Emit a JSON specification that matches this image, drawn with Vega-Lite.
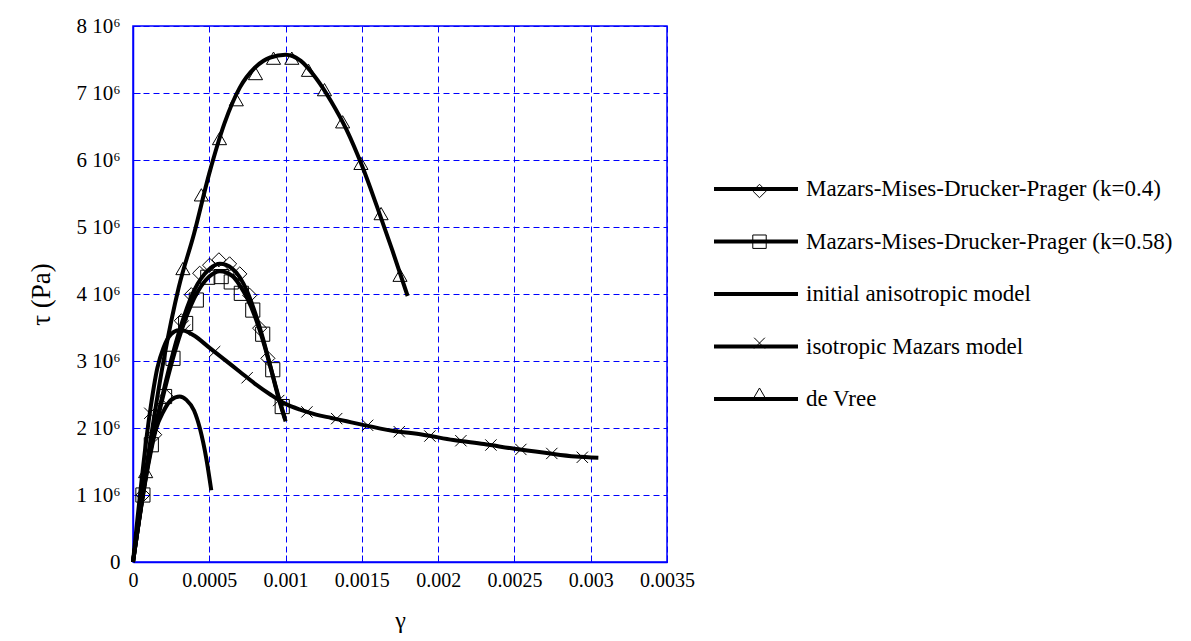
{
  "$schema": "https://vega.github.io/schema/vega-lite/v6.json",
  "width": 534,
  "height": 536,
  "autosize": {"type": "none"},
  "padding": {"left": 133, "top": 26, "right": 524, "bottom": 79},
  "background": "white",
  "config": {
    "font": "Liberation Serif",
    "view": {"stroke": "#0000ff", "strokeWidth": 1.5},
    "axis": {
      "labelFont": "Liberation Serif",
      "labelFontSize": 20,
      "labelColor": "black",
      "titleFont": "Liberation Serif",
      "titleFontWeight": "normal",
      "titleColor": "black",
      "domainColor": "#0000ff",
      "domainWidth": 1.5,
      "gridColor": "#0000ff",
      "gridDash": [6, 4],
      "gridWidth": 1,
      "gridOpacity": 1,
      "ticks": true,
      "tickColor": "#0000ff",
      "tickSize": -7,
      "tickWidth": 1
    },
    "legend": {
      "labelFont": "Liberation Serif",
      "labelFontSize": 23,
      "labelColor": "black",
      "labelLimit": 600,
      "padding": 0,
      "orient": "none"
    }
  },
  "datasets": {
    "lines": [
      {"curve": "Mazars-Mises-Drucker-Prager (k=0.4)", "gamma": 0, "tau": 0},
      {"curve": "Mazars-Mises-Drucker-Prager (k=0.4)", "gamma": 0.0001, "tau": 1500000},
      {"curve": "Mazars-Mises-Drucker-Prager (k=0.4)", "gamma": 0.0002, "tau": 2550000},
      {"curve": "Mazars-Mises-Drucker-Prager (k=0.4)", "gamma": 0.0003, "tau": 3420000},
      {"curve": "Mazars-Mises-Drucker-Prager (k=0.4)", "gamma": 0.0004, "tau": 4050000},
      {"curve": "Mazars-Mises-Drucker-Prager (k=0.4)", "gamma": 0.0005, "tau": 4370000},
      {"curve": "Mazars-Mises-Drucker-Prager (k=0.4)", "gamma": 0.00057, "tau": 4450000},
      {"curve": "Mazars-Mises-Drucker-Prager (k=0.4)", "gamma": 0.00065, "tau": 4380000},
      {"curve": "Mazars-Mises-Drucker-Prager (k=0.4)", "gamma": 0.0007, "tau": 4250000},
      {"curve": "Mazars-Mises-Drucker-Prager (k=0.4)", "gamma": 0.00075, "tau": 4030000},
      {"curve": "Mazars-Mises-Drucker-Prager (k=0.4)", "gamma": 0.0008, "tau": 3720000},
      {"curve": "Mazars-Mises-Drucker-Prager (k=0.4)", "gamma": 0.00085, "tau": 3350000},
      {"curve": "Mazars-Mises-Drucker-Prager (k=0.4)", "gamma": 0.0009, "tau": 2920000},
      {"curve": "Mazars-Mises-Drucker-Prager (k=0.4)", "gamma": 0.00095, "tau": 2480000},
      {"curve": "Mazars-Mises-Drucker-Prager (k=0.4)", "gamma": 0.001, "tau": 2100000},
      {"curve": "Mazars-Mises-Drucker-Prager (k=0.58)", "gamma": 0, "tau": 0},
      {"curve": "Mazars-Mises-Drucker-Prager (k=0.58)", "gamma": 0.0001, "tau": 1480000},
      {"curve": "Mazars-Mises-Drucker-Prager (k=0.58)", "gamma": 0.0002, "tau": 2500000},
      {"curve": "Mazars-Mises-Drucker-Prager (k=0.58)", "gamma": 0.0003, "tau": 3330000},
      {"curve": "Mazars-Mises-Drucker-Prager (k=0.58)", "gamma": 0.0004, "tau": 3930000},
      {"curve": "Mazars-Mises-Drucker-Prager (k=0.58)", "gamma": 0.0005, "tau": 4260000},
      {"curve": "Mazars-Mises-Drucker-Prager (k=0.58)", "gamma": 0.00057, "tau": 4340000},
      {"curve": "Mazars-Mises-Drucker-Prager (k=0.58)", "gamma": 0.00065, "tau": 4270000},
      {"curve": "Mazars-Mises-Drucker-Prager (k=0.58)", "gamma": 0.0007, "tau": 4130000},
      {"curve": "Mazars-Mises-Drucker-Prager (k=0.58)", "gamma": 0.00075, "tau": 3930000},
      {"curve": "Mazars-Mises-Drucker-Prager (k=0.58)", "gamma": 0.0008, "tau": 3660000},
      {"curve": "Mazars-Mises-Drucker-Prager (k=0.58)", "gamma": 0.00085, "tau": 3320000},
      {"curve": "Mazars-Mises-Drucker-Prager (k=0.58)", "gamma": 0.0009, "tau": 2920000},
      {"curve": "Mazars-Mises-Drucker-Prager (k=0.58)", "gamma": 0.00095, "tau": 2500000},
      {"curve": "Mazars-Mises-Drucker-Prager (k=0.58)", "gamma": 0.000995, "tau": 2150000},
      {"curve": "initial anisotropic model", "gamma": 0, "tau": 0},
      {"curve": "initial anisotropic model", "gamma": 0.0001, "tau": 1450000},
      {"curve": "initial anisotropic model", "gamma": 0.00015, "tau": 1980000},
      {"curve": "initial anisotropic model", "gamma": 0.0002, "tau": 2250000},
      {"curve": "initial anisotropic model", "gamma": 0.00025, "tau": 2420000},
      {"curve": "initial anisotropic model", "gamma": 0.000306, "tau": 2470000},
      {"curve": "initial anisotropic model", "gamma": 0.00035, "tau": 2420000},
      {"curve": "initial anisotropic model", "gamma": 0.0004, "tau": 2260000},
      {"curve": "initial anisotropic model", "gamma": 0.00044, "tau": 1980000},
      {"curve": "initial anisotropic model", "gamma": 0.00048, "tau": 1550000},
      {"curve": "initial anisotropic model", "gamma": 0.000513, "tau": 1070000},
      {"curve": "isotropic Mazars model", "gamma": 0, "tau": 0},
      {"curve": "isotropic Mazars model", "gamma": 0.00011, "tau": 2220000},
      {"curve": "isotropic Mazars model", "gamma": 0.00016, "tau": 2900000},
      {"curve": "isotropic Mazars model", "gamma": 0.0002, "tau": 3200000},
      {"curve": "isotropic Mazars model", "gamma": 0.00025, "tau": 3400000},
      {"curve": "isotropic Mazars model", "gamma": 0.0003, "tau": 3460000},
      {"curve": "isotropic Mazars model", "gamma": 0.00034, "tau": 3450000},
      {"curve": "isotropic Mazars model", "gamma": 0.0004, "tau": 3380000},
      {"curve": "isotropic Mazars model", "gamma": 0.0005, "tau": 3200000},
      {"curve": "isotropic Mazars model", "gamma": 0.0006, "tau": 3020000},
      {"curve": "isotropic Mazars model", "gamma": 0.0007, "tau": 2840000},
      {"curve": "isotropic Mazars model", "gamma": 0.0008, "tau": 2660000},
      {"curve": "isotropic Mazars model", "gamma": 0.0009, "tau": 2500000},
      {"curve": "isotropic Mazars model", "gamma": 0.001, "tau": 2360000},
      {"curve": "isotropic Mazars model", "gamma": 0.0011, "tau": 2270000},
      {"curve": "isotropic Mazars model", "gamma": 0.0012, "tau": 2200000},
      {"curve": "isotropic Mazars model", "gamma": 0.0013, "tau": 2150000},
      {"curve": "isotropic Mazars model", "gamma": 0.0014, "tau": 2100000},
      {"curve": "isotropic Mazars model", "gamma": 0.0015, "tau": 2050000},
      {"curve": "isotropic Mazars model", "gamma": 0.0017, "tau": 1960000},
      {"curve": "isotropic Mazars model", "gamma": 0.0019, "tau": 1900000},
      {"curve": "isotropic Mazars model", "gamma": 0.0021, "tau": 1820000},
      {"curve": "isotropic Mazars model", "gamma": 0.0023, "tau": 1760000},
      {"curve": "isotropic Mazars model", "gamma": 0.0025, "tau": 1690000},
      {"curve": "isotropic Mazars model", "gamma": 0.0027, "tau": 1630000},
      {"curve": "isotropic Mazars model", "gamma": 0.0029, "tau": 1575000},
      {"curve": "isotropic Mazars model", "gamma": 0.00305, "tau": 1557000},
      {"curve": "de Vree", "gamma": 0, "tau": 0},
      {"curve": "de Vree", "gamma": 0.0001, "tau": 1600000},
      {"curve": "de Vree", "gamma": 0.0002, "tau": 3000000},
      {"curve": "de Vree", "gamma": 0.0003, "tau": 4100000},
      {"curve": "de Vree", "gamma": 0.0004, "tau": 4900000},
      {"curve": "de Vree", "gamma": 0.0005, "tau": 5800000},
      {"curve": "de Vree", "gamma": 0.0006, "tau": 6550000},
      {"curve": "de Vree", "gamma": 0.0007, "tau": 7080000},
      {"curve": "de Vree", "gamma": 0.0008, "tau": 7380000},
      {"curve": "de Vree", "gamma": 0.0009, "tau": 7530000},
      {"curve": "de Vree", "gamma": 0.001, "tau": 7570000},
      {"curve": "de Vree", "gamma": 0.0011, "tau": 7480000},
      {"curve": "de Vree", "gamma": 0.0012, "tau": 7220000},
      {"curve": "de Vree", "gamma": 0.0013, "tau": 6870000},
      {"curve": "de Vree", "gamma": 0.0014, "tau": 6450000},
      {"curve": "de Vree", "gamma": 0.0015, "tau": 5920000},
      {"curve": "de Vree", "gamma": 0.0016, "tau": 5300000},
      {"curve": "de Vree", "gamma": 0.0017, "tau": 4650000},
      {"curve": "de Vree", "gamma": 0.0018, "tau": 3970000}
    ],
    "markers": [
      {"model": "MMDP k=0.4", "gamma": 0.000065, "tau": 1000000},
      {"model": "MMDP k=0.4", "gamma": 0.000142, "tau": 1900000},
      {"model": "MMDP k=0.4", "gamma": 0.000218, "tau": 2470000},
      {"model": "MMDP k=0.4", "gamma": 0.000317, "tau": 3600000},
      {"model": "MMDP k=0.4", "gamma": 0.000382, "tau": 3990000},
      {"model": "MMDP k=0.4", "gamma": 0.000437, "tau": 4310000},
      {"model": "MMDP k=0.4", "gamma": 0.000502, "tau": 4430000},
      {"model": "MMDP k=0.4", "gamma": 0.000563, "tau": 4510000},
      {"model": "MMDP k=0.4", "gamma": 0.000633, "tau": 4450000},
      {"model": "MMDP k=0.4", "gamma": 0.0007, "tau": 4300000},
      {"model": "MMDP k=0.4", "gamma": 0.000765, "tau": 3980000},
      {"model": "MMDP k=0.4", "gamma": 0.00083, "tau": 3490000},
      {"model": "MMDP k=0.4", "gamma": 0.000884, "tau": 3040000},
      {"model": "MMDP k=0.58", "gamma": 0.000065, "tau": 1000000},
      {"model": "MMDP k=0.58", "gamma": 0.00012, "tau": 1750000},
      {"model": "MMDP k=0.58", "gamma": 0.000207, "tau": 2470000},
      {"model": "MMDP k=0.58", "gamma": 0.000262, "tau": 3040000},
      {"model": "MMDP k=0.58", "gamma": 0.000345, "tau": 3560000},
      {"model": "MMDP k=0.58", "gamma": 0.000415, "tau": 3910000},
      {"model": "MMDP k=0.58", "gamma": 0.00049, "tau": 4250000},
      {"model": "MMDP k=0.58", "gamma": 0.000578, "tau": 4260000},
      {"model": "MMDP k=0.58", "gamma": 0.000644, "tau": 4180000},
      {"model": "MMDP k=0.58", "gamma": 0.00071, "tau": 4010000},
      {"model": "MMDP k=0.58", "gamma": 0.000785, "tau": 3760000},
      {"model": "MMDP k=0.58", "gamma": 0.00085, "tau": 3400000},
      {"model": "MMDP k=0.58", "gamma": 0.000916, "tau": 2870000},
      {"model": "MMDP k=0.58", "gamma": 0.000978, "tau": 2320000},
      {"model": "isotropic Mazars", "gamma": 0.00011, "tau": 2220000},
      {"model": "isotropic Mazars", "gamma": 0.000338, "tau": 3460000},
      {"model": "isotropic Mazars", "gamma": 0.000535, "tau": 3140000},
      {"model": "isotropic Mazars", "gamma": 0.000748, "tau": 2750000},
      {"model": "isotropic Mazars", "gamma": 0.000955, "tau": 2410000},
      {"model": "isotropic Mazars", "gamma": 0.00114, "tau": 2240000},
      {"model": "isotropic Mazars", "gamma": 0.001335, "tau": 2140000},
      {"model": "isotropic Mazars", "gamma": 0.001538, "tau": 2040000},
      {"model": "isotropic Mazars", "gamma": 0.001745, "tau": 1945000},
      {"model": "isotropic Mazars", "gamma": 0.001946, "tau": 1880000},
      {"model": "isotropic Mazars", "gamma": 0.002149, "tau": 1810000},
      {"model": "isotropic Mazars", "gamma": 0.002346, "tau": 1746000},
      {"model": "isotropic Mazars", "gamma": 0.002542, "tau": 1680000},
      {"model": "isotropic Mazars", "gamma": 0.002745, "tau": 1620000},
      {"model": "isotropic Mazars", "gamma": 0.002945, "tau": 1563000},
      {"model": "de Vree data", "gamma": 0.000083, "tau": 1350000},
      {"model": "de Vree data", "gamma": 0.000327, "tau": 4380000},
      {"model": "de Vree data", "gamma": 0.000448, "tau": 5480000},
      {"model": "de Vree data", "gamma": 0.000567, "tau": 6320000},
      {"model": "de Vree data", "gamma": 0.000677, "tau": 6900000},
      {"model": "de Vree data", "gamma": 0.000803, "tau": 7290000},
      {"model": "de Vree data", "gamma": 0.000921, "tau": 7520000},
      {"model": "de Vree data", "gamma": 0.001041, "tau": 7520000},
      {"model": "de Vree data", "gamma": 0.00115, "tau": 7340000},
      {"model": "de Vree data", "gamma": 0.001255, "tau": 7050000},
      {"model": "de Vree data", "gamma": 0.001374, "tau": 6570000},
      {"model": "de Vree data", "gamma": 0.001494, "tau": 5950000},
      {"model": "de Vree data", "gamma": 0.001626, "tau": 5200000},
      {"model": "de Vree data", "gamma": 0.00175, "tau": 4280000}
    ]
  },
  "encoding": {
    "x": {
      "field": "gamma",
      "type": "quantitative",
      "scale": {"domain": [0, 0.0035], "nice": false, "zero": false},
      "axis": {
        "title": "γ",
        "titleFontSize": 24,
        "values": [0, 0.0005, 0.001, 0.0015, 0.002, 0.0025, 0.003, 0.0035],
        "format": ".4~f",
        "labelPadding": 15,
        "titlePadding": 18,
        "labelFlush": false
      }
    },
    "y": {
      "field": "tau",
      "type": "quantitative",
      "scale": {"domain": [0, 8000000], "nice": false, "zero": false},
      "axis": {
        "title": "τ (Pa)",
        "titleFontSize": 27,
        "values": [0, 1000000, 2000000, 3000000, 4000000, 5000000, 6000000, 7000000, 8000000],
        "labelExpr": "datum.value == 0 ? '0' : format(datum.value / 1000000, 'd') + ' 10⁶'",
        "labelFontSize": 21,
        "labelPadding": 20,
        "titlePadding": 20,
        "labelFlush": false
      }
    }
  },
  "layer": [
    {
      "data": {"name": "markers"},
      "mark": {"type": "point", "filled": false, "color": "black", "strokeWidth": 1, "size": 200, "opacity": 1},
      "encoding": {
        "shape": {
          "field": "model",
          "type": "nominal",
          "scale": {
            "domain": ["MMDP k=0.4", "MMDP k=0.58", "initial anisotropic (no marker)", "isotropic Mazars", "de Vree data"],
            "range": ["diamond", "square", "M0,0", "M-0.8,-0.8L0.8,0.8M-0.8,0.8L0.8,-0.8", "triangle-up"]
          },
          "legend": {
            "title": null,
            "legendX": 615,
            "legendY": 153.5,
            "rowPadding": 26.7,
            "labelExpr": "' '",
            "symbolSize": 180,
            "symbolStrokeColor": "black",
            "symbolStrokeWidth": 1,
            "symbolFillColor": "transparent",
            "symbolOpacity": 1,
            "zindex": 2
          }
        }
      }
    },
    {
      "data": {"name": "lines"},
      "mark": {"type": "line", "strokeWidth": 4, "interpolate": "monotone"},
      "encoding": {
        "color": {
          "field": "curve",
          "type": "nominal",
          "scale": {
            "domain": ["Mazars-Mises-Drucker-Prager (k=0.4)", "Mazars-Mises-Drucker-Prager (k=0.58)", "initial anisotropic model", "isotropic Mazars model", "de Vree"],
            "range": ["black", "black", "black", "black", "black"]
          },
          "legend": {
            "title": null,
            "legendX": 610.5,
            "legendY": 150.5,
            "rowPadding": 27.5,
            "symbolType": "M-4,0H4",
            "symbolSize": 441,
            "symbolStrokeWidth": 4,
            "symbolStrokeColor": "black",
            "symbolFillColor": "transparent",
            "labelOffset": 37.5,
            "zindex": 1
          }
        }
      }
    }
  ]
}
